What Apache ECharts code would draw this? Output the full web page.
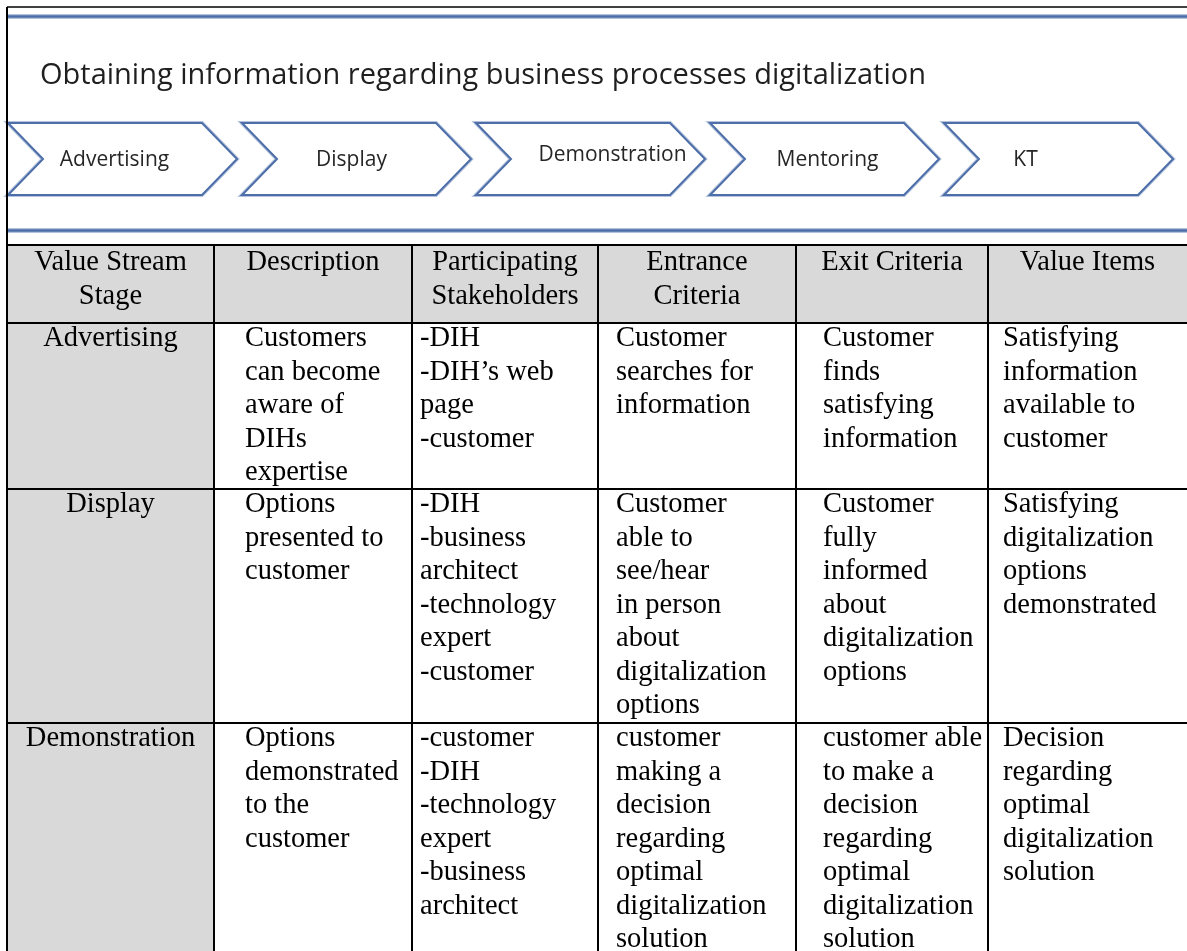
<!DOCTYPE html>
<html>
<head>
<meta charset="utf-8">
<script src="https://cdn.jsdelivr.net/npm/echarts@6/dist/echarts.min.js"></script>
<style>
html,body{margin:0;padding:0;background:#fff;}
#chart{width:1187px;height:951px;}
</style>
</head>
<body>
<div id="chart"></div>
<script>
// ---------------- data ----------------
const titleText = 'Obtaining information regarding business processes digitalization';
const stages = ['Advertising', 'Display', 'Demonstration', 'Mentoring', 'KT'];
const headers = ['Value Stream\nStage', 'Description', 'Participating\nStakeholders', 'Entrance\nCriteria', 'Exit Criteria', 'Value Items'];
const stageRows = ['Advertising', 'Display', 'Demonstration'];
const descriptions = [
  'Customers\ncan become\naware of\nDIHs\nexpertise',
  'Options\npresented to\ncustomer',
  'Options\ndemonstrated\nto the\ncustomer'
];
const stakeholders = [
  '-DIH\n-DIH\u2019s web\npage\n-customer',
  '-DIH\n-business\narchitect\n-technology\nexpert\n-customer',
  '-customer\n-DIH\n-technology\nexpert\n-business\narchitect'
];
const entranceCriteria = [
  'Customer\nsearches for\ninformation',
  'Customer\nable to\nsee/hear\nin person\nabout\ndigitalization\noptions',
  'customer\nmaking a\ndecision\nregarding\noptimal\ndigitalization\nsolution'
];
const exitCriteria = [
  'Customer\nfinds\nsatisfying\ninformation',
  'Customer\nfully\ninformed\nabout\ndigitalization\noptions',
  'customer able\nto make a\ndecision\nregarding\noptimal\ndigitalization\nsolution'
];
const valueItems = [
  'Satisfying\ninformation\navailable to\ncustomer',
  'Satisfying\ndigitalization\noptions\ndemonstrated',
  'Decision\nregarding\noptimal\ndigitalization\nsolution'
];

// ---------------- layout (page units) ----------------
const W = 1187, H = 951;
const colEdges = [7, 214, 412, 598, 796, 988, 1187];
const rowEdges = [245, 323, 489, 723, 1010];
const padLeft = [0, 31, 8, 18, 27, 15];
const chev = { left: 8, pitch: 234, top: 123, bottom: 195, body: 194, depth: 35 };
const labelDx = [-8, -5, 22, 3, -33];
const labelDy = [1, 1, -4, 1, 1];
const BLUE = '#4d6ea8';
const BLUE_HALO = '#b3c3dd';
const SERIF = '"Liberation Serif","Times New Roman",serif';
const SANS = '"Open Sans","Noto Sans",sans-serif';

const columns = [stageRows, descriptions, stakeholders, entranceCriteria, exitCriteria, valueItems];
const cells = [];
headers.forEach((h, c) => cells.push({ value: [c, 0], text: h }));
stageRows.forEach((_, r) => {
  columns.forEach((col, c) => cells.push({ value: [c, r + 1], text: col[r] }));
});

const chevData = stages.map((s, i) => ({ value: [i], name: s }));

function renderCell(params, api) {
  const c = api.value(0), r = api.value(1);
  const text = cells[params.dataIndex].text;
  const tl = api.coord([colEdges[c], rowEdges[r]]);
  const br = api.coord([colEdges[c + 1], rowEdges[r + 1]]);
  const gray = (r === 0 || c === 0);
  return {
    type: 'group',
    children: [
      { type: 'rect', shape: { x: tl[0], y: tl[1], width: br[0] - tl[0], height: br[1] - tl[1] },
        style: { fill: gray ? '#d9d9d9' : '#ffffff' } },
      { type: 'polyline', shape: { points: [[tl[0], br[1]], [tl[0], tl[1]], [br[0], tl[1]]] },
        style: { stroke: '#000', lineWidth: 2, fill: null } },
      { type: 'text', style: {
          text: text,
          x: gray ? (tl[0] + br[0]) / 2 : tl[0] + padLeft[c],
          y: tl[1] + (r === 0 ? 1 : -1),
          align: gray ? 'center' : 'left',
          verticalAlign: 'top',
          fontFamily: SERIF, fontSize: 28.5, lineHeight: 33.5, fill: '#000'
      } }
    ]
  };
}

function renderChevron(params, api) {
  const i = api.value(0);
  const L = chev.left + i * chev.pitch;
  const R = L + chev.body;
  const mid = (chev.top + chev.bottom) / 2;
  const pts = [[L, chev.top], [R, chev.top], [R + chev.depth, mid], [R, chev.bottom], [L, chev.bottom], [L + chev.depth, mid]]
    .map(p => api.coord(p));
  const c = api.coord([(L + chev.depth + R) / 2 + labelDx[i], mid + labelDy[i]]);
  return {
    type: 'group',
    children: [
      { type: 'polygon', shape: { points: pts }, style: { fill: 'none', stroke: BLUE_HALO, lineWidth: 4, lineJoin: 'miter' } },
      { type: 'polygon', shape: { points: pts }, style: { fill: '#fff', stroke: BLUE, lineWidth: 2, lineJoin: 'miter' } },
      { type: 'text', style: { text: stages[i], x: c[0], y: c[1], align: 'center', verticalAlign: 'middle',
          fontFamily: SANS, fontSize: 21, fill: '#262626' } }
    ]
  };
}

const chart = echarts.init(document.getElementById('chart'), null, { renderer: 'canvas' });
chart.setOption({
  animation: false,
  backgroundColor: '#fff',
  title: {
    text: titleText, left: 35, top: 56, padding: 5,
    textStyle: { fontFamily: SANS, fontSize: 29, fontWeight: 'normal', color: '#1f1f1f', lineHeight: 30 }
  },
  grid: { left: 0, right: 0, top: 0, bottom: 0 },
  xAxis: { type: 'value', min: 0, max: W, show: false },
  yAxis: { type: 'value', min: 0, max: H, inverse: true, show: false },
  graphic: [
    { type: 'line', shape: { x1: 7, y1: 16.5, x2: W, y2: 16.5 }, style: { stroke: BLUE_HALO, lineWidth: 5 }, z: 9 },
    { type: 'line', shape: { x1: 7, y1: 16.5, x2: W, y2: 16.5 }, style: { stroke: BLUE, lineWidth: 2.5 }, z: 10 },
    { type: 'line', shape: { x1: 7, y1: 230.5, x2: W, y2: 230.5 }, style: { stroke: BLUE_HALO, lineWidth: 5 }, z: 9 },
    { type: 'line', shape: { x1: 7, y1: 230.5, x2: W, y2: 230.5 }, style: { stroke: BLUE, lineWidth: 2.5 }, z: 10 },
    { type: 'line', shape: { x1: 7, y1: 7, x2: W, y2: 7 }, style: { stroke: '#000', lineWidth: 1.5 }, z: 11 },
    { type: 'line', shape: { x1: 7, y1: 7, x2: 7, y2: H }, style: { stroke: '#000', lineWidth: 2 }, z: 11 }
  ],
  series: [
    { type: 'custom', name: 'table', coordinateSystem: 'cartesian2d', renderItem: renderCell, data: cells, clip: false, silent: true },
    { type: 'custom', name: 'stages', coordinateSystem: 'cartesian2d', renderItem: renderChevron, data: chevData, clip: false, silent: true }
  ]
});
</script>
</body>
</html>
